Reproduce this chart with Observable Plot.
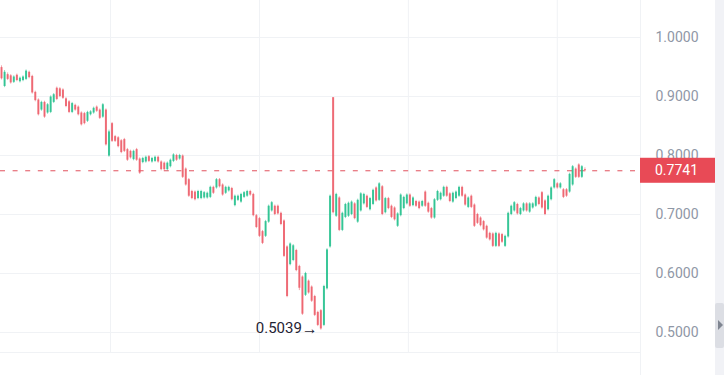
<!DOCTYPE html>
<html>
<head>
<meta charset="utf-8">
<script src="https://cdn.jsdelivr.net/npm/d3@7"></script>
<script src="https://cdn.jsdelivr.net/npm/@observablehq/plot@0.6"></script>
<style>
  html, body { margin: 0; padding: 0; background: #ffffff; }
  #chart svg { display: block; }
</style>
</head>
<body>
<div id="chart"></div>
<script>
// ---- data ----
const open = [
  0.949,0.917,0.937,0.935,0.924,0.936,0.925,0.927,0.929,0.941,
  0.934,0.907,0.894,0.877,0.890,0.872,0.873,0.890,0.914,0.913,
  0.911,0.896,0.891,0.873,0.885,0.882,0.872,0.871,0.858,0.869,
  0.872,0.882,0.877,0.865,0.877,0.799,0.854,0.832,0.830,0.825,
  0.827,0.810,0.807,0.793,0.810,0.794,0.788,0.789,0.798,0.789,
  0.790,0.797,0.789,0.787,0.776,0.781,0.790,0.800,0.794,0.799,
  0.777,0.759,0.739,0.738,0.727,0.727,0.728,0.728,0.729,0.746,
  0.745,0.759,0.750,0.736,0.740,0.744,0.715,0.724,0.721,0.729,
  0.731,0.739,0.734,0.698,0.693,0.671,0.663,0.687,0.706,0.714,
  0.714,0.702,0.689,0.645,0.615,0.622,0.639,0.612,0.594,0.563,
  0.587,0.577,0.561,0.534,0.537,0.512,0.574,0.645,0.898,0.697,
  0.728,0.673,0.695,0.697,0.700,0.718,0.687,0.706,0.718,0.731,
  0.708,0.717,0.745,0.724,0.747,0.703,0.727,0.714,0.711,0.680,
  0.698,0.710,0.718,0.733,0.715,0.722,0.721,0.714,0.738,0.719,
  0.710,0.694,0.724,0.725,0.731,0.746,0.735,0.721,0.727,0.731,
  0.746,0.733,0.712,0.731,0.716,0.700,0.694,0.688,0.680,0.668,
  0.667,0.646,0.667,0.666,0.646,0.662,0.700,0.706,0.717,0.700,
  0.706,0.718,0.704,0.711,0.714,0.728,0.737,0.723,0.708,0.725,
  0.745,0.752,0.745,0.742,0.742,0.738,0.750,0.777,0.784,0.763,0.776
];
const close = [
  0.930,0.941,0.929,0.923,0.933,0.927,0.931,0.933,0.943,0.932,
  0.906,0.893,0.869,0.890,0.865,0.886,0.899,0.903,0.895,0.900,
  0.897,0.883,0.873,0.888,0.877,0.869,0.852,0.854,0.873,0.874,
  0.880,0.875,0.863,0.886,0.818,0.840,0.824,0.824,0.815,0.805,
  0.807,0.792,0.796,0.807,0.792,0.770,0.795,0.797,0.790,0.795,
  0.797,0.789,0.776,0.776,0.787,0.792,0.801,0.792,0.800,0.763,
  0.750,0.731,0.727,0.725,0.739,0.739,0.737,0.736,0.746,0.736,
  0.759,0.747,0.733,0.746,0.746,0.725,0.731,0.731,0.734,0.737,
  0.739,0.733,0.698,0.678,0.663,0.651,0.688,0.714,0.720,0.700,
  0.701,0.683,0.629,0.561,0.650,0.647,0.605,0.575,0.531,0.600,
  0.567,0.553,0.529,0.512,0.506,0.578,0.640,0.731,0.703,0.734,
  0.673,0.702,0.717,0.719,0.721,0.693,0.724,0.735,0.734,0.712,
  0.727,0.741,0.723,0.752,0.700,0.727,0.710,0.695,0.691,0.701,
  0.733,0.729,0.733,0.714,0.728,0.714,0.710,0.722,0.714,0.704,
  0.694,0.725,0.739,0.736,0.746,0.731,0.722,0.736,0.738,0.746,
  0.731,0.716,0.728,0.712,0.680,0.685,0.681,0.674,0.660,0.657,
  0.646,0.668,0.646,0.653,0.663,0.702,0.714,0.720,0.701,0.710,
  0.718,0.706,0.718,0.718,0.729,0.717,0.711,0.700,0.731,0.745,
  0.759,0.745,0.752,0.729,0.731,0.768,0.781,0.763,0.763,0.781,0.7741
];
const high = [
  0.952,0.944,0.940,0.937,0.935,0.938,0.933,0.935,0.945,0.943,
  0.936,0.909,0.896,0.892,0.892,0.888,0.901,0.905,0.916,0.915,
  0.913,0.898,0.893,0.890,0.887,0.884,0.874,0.873,0.875,0.876,
  0.882,0.884,0.879,0.888,0.879,0.843,0.856,0.834,0.832,0.827,
  0.829,0.812,0.809,0.809,0.812,0.796,0.797,0.799,0.800,0.797,
  0.799,0.799,0.791,0.789,0.789,0.794,0.803,0.802,0.802,0.801,
  0.779,0.761,0.741,0.740,0.741,0.741,0.739,0.738,0.748,0.748,
  0.761,0.761,0.752,0.748,0.748,0.746,0.733,0.733,0.736,0.739,
  0.741,0.741,0.736,0.700,0.695,0.673,0.690,0.716,0.722,0.716,
  0.716,0.704,0.691,0.647,0.652,0.649,0.641,0.614,0.596,0.602,
  0.589,0.579,0.563,0.536,0.539,0.580,0.642,0.733,0.898,0.736,
  0.730,0.704,0.719,0.721,0.723,0.720,0.726,0.737,0.736,0.733,
  0.729,0.743,0.747,0.754,0.749,0.729,0.729,0.716,0.713,0.703,
  0.735,0.731,0.735,0.735,0.730,0.724,0.723,0.724,0.740,0.721,
  0.712,0.727,0.741,0.738,0.748,0.748,0.737,0.738,0.740,0.748,
  0.748,0.735,0.730,0.733,0.718,0.702,0.696,0.690,0.682,0.670,
  0.669,0.670,0.669,0.668,0.665,0.704,0.716,0.722,0.719,0.712,
  0.720,0.720,0.720,0.720,0.731,0.730,0.739,0.725,0.733,0.747,
  0.761,0.754,0.754,0.744,0.744,0.770,0.783,0.779,0.786,0.783,0.779
];
const low = [
  0.928,0.915,0.927,0.921,0.922,0.925,0.923,0.925,0.927,0.930,
  0.904,0.891,0.867,0.875,0.863,0.870,0.871,0.888,0.893,0.898,
  0.895,0.881,0.871,0.871,0.875,0.867,0.850,0.852,0.856,0.867,
  0.870,0.873,0.861,0.863,0.816,0.797,0.822,0.822,0.813,0.803,
  0.805,0.790,0.794,0.791,0.790,0.768,0.786,0.787,0.788,0.787,
  0.788,0.787,0.774,0.774,0.774,0.779,0.788,0.790,0.792,0.761,
  0.748,0.729,0.725,0.723,0.725,0.725,0.726,0.726,0.727,0.734,
  0.743,0.745,0.731,0.734,0.738,0.723,0.713,0.722,0.719,0.727,
  0.729,0.731,0.696,0.676,0.661,0.649,0.661,0.685,0.704,0.698,
  0.699,0.681,0.627,0.559,0.613,0.620,0.603,0.571,0.529,0.561,
  0.565,0.551,0.527,0.510,0.5039,0.510,0.572,0.643,0.701,0.695,
  0.671,0.671,0.693,0.695,0.698,0.691,0.685,0.704,0.716,0.710,
  0.706,0.715,0.721,0.722,0.698,0.701,0.708,0.693,0.689,0.678,
  0.696,0.708,0.716,0.712,0.713,0.712,0.708,0.712,0.712,0.702,
  0.692,0.692,0.722,0.723,0.729,0.729,0.720,0.719,0.725,0.729,
  0.729,0.714,0.710,0.710,0.678,0.683,0.679,0.672,0.658,0.655,
  0.644,0.644,0.644,0.651,0.644,0.660,0.698,0.704,0.699,0.698,
  0.704,0.704,0.702,0.709,0.712,0.715,0.709,0.698,0.706,0.723,
  0.743,0.743,0.743,0.727,0.729,0.736,0.748,0.761,0.761,0.761,0.772
];
const priceTicks = [0.5, 0.6, 0.7, 0.8, 0.9, 1.0];
const timeGridTicks = [35.5, 84, 132.5, 181];
const lastPrice = 0.7741;
const lowLabel = "0.5039";
const lowValue = 0.5039;
const lowIndex = 104;

// ---- styles ----
const UP = "#22c08c";
const DOWN = "#ec5a66";
const GRID = "#f0f2f5";

const candles = open.map((o, i) => ({
  i, o, c: close[i], h: high[i], l: low[i], up: close[i] >= o
}));

const chart = Plot.plot({
  width: 724,
  height: 375,
  marginLeft: 0,
  marginRight: 84,
  marginTop: 0,
  marginBottom: 23,
  style: { fontFamily: "Roboto, 'Noto Sans', sans-serif", fontSize: "14px", background: "#ffffff", overflow: "visible" },
  x: { domain: [-0.33, 208.1], axis: null },
  y: { domain: [0.4661, 1.0627], axis: null },
  marks: [
    Plot.gridY(priceTicks, { stroke: GRID, strokeOpacity: 1 }),
    Plot.gridX(timeGridTicks, { stroke: GRID, strokeOpacity: 1 }),
    Plot.axisY(priceTicks, {
      anchor: "right", tickSize: 0, tickPadding: 15, textAnchor: "start",
      tickFormat: d3.format(".4f"), fill: "#8f97a6", fontSize: 14
    }),
    Plot.ruleY([lastPrice], { stroke: "#e2515d", strokeWidth: 1, strokeDasharray: "5,7.6" }),
    Plot.ruleX(candles, { x: "i", y1: "l", y2: "h", stroke: d => d.up ? UP : DOWN, strokeWidth: 1, strokeOpacity: 0.55 }),
    Plot.ruleX(candles, { x: "i", y1: "o", y2: "c", stroke: d => d.up ? UP : DOWN, strokeWidth: 2, strokeOpacity: 0.85 }),
    Plot.text([{ x: lowIndex, y: lowValue }], {
      x: "x", y: "y", text: () => lowLabel, textAnchor: "end",
      dx: -19, dy: -2, fill: "#1f2333", fontSize: 15
    }),
    Plot.text([{ x: lowIndex, y: lowValue }], {
      x: "x", y: "y", text: () => "\u2192", textAnchor: "end",
      dx: -3, dy: -1, fill: "#1f2333", fontSize: 16, fontWeight: "bold"
    })
  ]
});

document.getElementById("chart").appendChild(chart);

// ---- price-scale decorations placed through the plot's own scales ----
const svg = d3.select(chart);
const xr = chart.scale("x").range;
const yr = chart.scale("y").range;
const right = Math.max(xr[0], xr[1]);
const bottom = Math.max(yr[0], yr[1]);
const yLast = chart.scale("y").apply(lastPrice);

svg.append("line").attr("x1", right + 0.5).attr("x2", right + 0.5).attr("y1", 0).attr("y2", 375)
  .attr("stroke", GRID);
svg.append("line").attr("x1", 0).attr("x2", right).attr("y1", bottom + 0.5).attr("y2", bottom + 0.5)
  .attr("stroke", GRID);

svg.append("rect").attr("x", right).attr("y", yLast - 12.5).attr("width", 75).attr("height", 25)
  .attr("fill", "#e84a56");
svg.append("text").attr("x", right + 15).attr("y", yLast).attr("dy", "0.35em")
  .attr("text-anchor", "start")
  .attr("fill", "#ffffff").attr("font-size", 14).attr("font-family", "Roboto, sans-serif")
  .text(d3.format(".4f")(lastPrice));

svg.append("rect").attr("x", 715).attr("y", 0).attr("width", 9).attr("height", 375).attr("fill", "#f1f2f6");
svg.append("rect").attr("x", 715).attr("y", 303).attr("width", 9).attr("height", 45).attr("rx", 2).attr("fill", "#dcdee4");
svg.append("path").attr("d", "M718,320 L723,325 L718,330 Z").attr("fill", "#7f8591");
</script>
</body>
</html>
